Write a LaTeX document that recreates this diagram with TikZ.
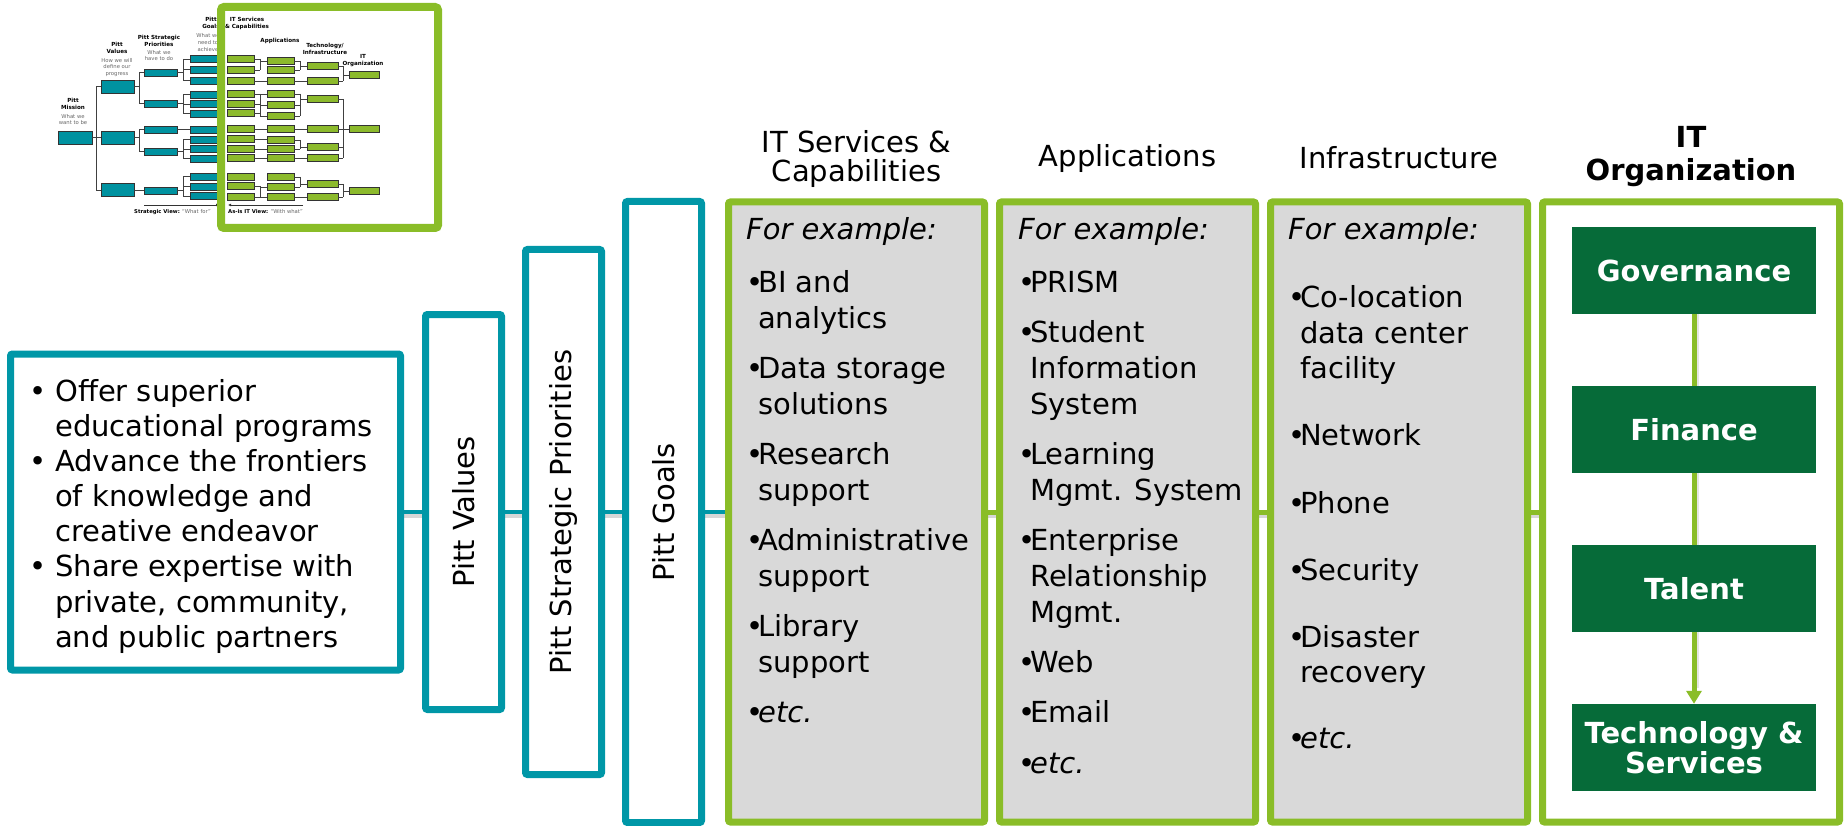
\documentclass[tikz,border=0pt]{standalone}
\usepackage{fontspec}
\setmainfont{DejaVu Sans}[ItalicFont={DejaVu Sans Oblique},BoldFont={DejaVu Sans Bold},BoldItalicFont={DejaVu Sans Bold Oblique}]
\usetikzlibrary{arrows.meta,backgrounds}
\definecolor{pteal}{RGB}{0,151,167}
\definecolor{pgreen}{RGB}{138,189,40}
\definecolor{pdark}{RGB}{6,107,57}
\definecolor{pgray}{RGB}{217,217,217}
\definecolor{tteal}{RGB}{0,146,160}
\definecolor{tgreen}{RGB}{140,186,44}
\newcommand{\mline}[4]{\node[txt] (#1) at (#2,#3) {#4};}
\newcommand{\bul}{\makebox[12pt][l]{\textbullet}}
\begin{document}
\begin{tikzpicture}[x=1pt,y=-1pt,
  tealbox/.style={draw=pteal, line width=7pt, fill=white, rounded corners=2pt, inner sep=0pt,
     font=\fontsize{29}{36}\selectfont},
  greenbox/.style={draw=pgreen, line width=7pt, fill=pgray, rounded corners=2pt, inner sep=0pt,
     minimum height=620pt},
  orgbox/.style={fill=pdark, text=white, font=\fontsize{29}{30}\selectfont\bfseries,
     minimum width=244pt, minimum height=87pt, align=center, inner sep=0pt},
  txt/.style={font=\fontsize{29}{36}\selectfont, inner sep=0pt, anchor=base west},
  hdr/.style={font=\fontsize{29}{30}\selectfont, inner sep=0pt, anchor=base},
  tconn/.style={pteal, line width=4.5pt},
  gconn/.style={pgreen, line width=5pt},
  shade/.style={black!35, opacity=0.45, line width=5pt},
  vshade/.style={black!25, opacity=0.4, line width=2.5pt},
  tline/.style={black!75, line width=0.7pt},
  tbox/.style={fill=tteal, draw=black!80, line width=0.7pt},
  gbox/.style={fill=tgreen, draw=black!80, line width=0.7pt},
  tbold/.style={font=\fontsize{5.6}{7}\selectfont\bfseries, align=center, inner sep=0pt},
  tgrey/.style={font=\fontsize{5.3}{6.6}\selectfont, text=black!60, align=center, inner sep=0pt}
]
\useasboundingbox (0,0) rectangle (1844,826);

% ---------------- thumbnail (strategic view) ----------------
\draw[tbox] (58,131) rectangle (92,144);
\foreach \y in {86.5,137.5,190} \draw[tbox] (101,\y-6.5) rectangle (134,\y+6.5);
\foreach \y in {72.5,103.5,129.5,151.5,190.5} \draw[tbox] (144,\y-3.5) rectangle (177,\y+3.5);
\foreach \y in {59,69.5,80.5,94.5,104,113.5,129.5,139.5,149,158.5,176.5,186.5,196}
  \draw[tbox] (190,\y-3.5) rectangle (224,\y+3.5);
\draw[tline] (92,137.5) -- (96,137.5) (96,86.5) -- (96,190);
\foreach \y in {86.5,137.5,190} \draw[tline] (96,\y) -- (101,\y);
\draw[tline] (134,86.5) -- (139,86.5) (139,72.5) -- (139,103.5) (139,72.5) -- (144,72.5) (139,103.5) -- (144,103.5);
\draw[tline] (134,137.5) -- (139,137.5) (139,129.5) -- (139,151.5) (139,129.5) -- (144,129.5) (139,151.5) -- (144,151.5);
\draw[tline] (134,190.5) -- (144,190.5);
\draw[tline] (177,72.5) -- (183,72.5) (183,59) -- (183,80.5);
\foreach \y in {59,69.5,80.5} \draw[tline] (183,\y) -- (190,\y);
\draw[tline] (177,103.5) -- (183,103.5) (183,94.5) -- (183,113.5);
\foreach \y in {94.5,104,113.5} \draw[tline] (183,\y) -- (190,\y);
\draw[tline] (177,129.5) -- (190,129.5);
\draw[tline] (177,151.5) -- (183,151.5) (183,139.5) -- (183,158.5);
\foreach \y in {139.5,149,158.5} \draw[tline] (183,\y) -- (190,\y);
\draw[tline] (177,190.5) -- (183,190.5) (183,176.5) -- (183,196);
\foreach \y in {176.5,186.5,196} \draw[tline] (183,\y) -- (190,\y);
\node[tbold] (tmis) at (73,103.5) {Pitt\\Mission};
\node[tgrey] (tmis2) at (73,119.5) {What we\\want to be};
\node[tbold] (tval) at (117,48) {Pitt\\Values};
\node[tgrey] (tval2) at (117,67.5) {How we will\\define our\\progress};
\node[tbold] (tpri) at (159,41) {Pitt Strategic\\Priorities};
\node[tgrey] (tpri2) at (159,55.5) {What we\\have to do};
\node[tbold] (tgoa) at (211,23) {Pitt\\Goals};
\node[tgrey] (tgoa2) at (208,42.5) {What we\\need to\\achieve};
\draw[black!80, line width=0.6pt, -{Latex[length=3pt,width=3pt]}] (144,205) -- (219,205);
\node[font=\fontsize{5.3}{6.6}\selectfont, anchor=west, inner sep=0pt] (tsv) at (134,212)
  {\textbf{Strategic View:} \textcolor{black!60}{“What for”}};
% frame
\draw[pgreen, line width=8pt, fill=white, rounded corners=3pt] (221,7) rectangle (438,228);
% thumbnail (IT view)
\foreach \y in {59,70,81,94,104,113,129,139,149,158,177,186,197} \draw[gbox] (227,\y-3.5) rectangle (254,\y+3.5);
\foreach \y in {61,70,81,94,105,116,129,140,149,158,177,187,197} \draw[gbox] (267,\y-3.5) rectangle (294,\y+3.5);
\foreach \y in {66,81,99,129,147,158,184,197} \draw[gbox] (307,\y-3.5) rectangle (338,\y+3.5);
\foreach \y in {75,129,191} \draw[gbox] (349,\y-3.5) rectangle (379,\y+3.5);
\draw[tline] (254,59) -- (260,59) (254,70) -- (260,70) (260,59) -- (260,70) (260,61) -- (267,61);
\draw[tline] (254,81) -- (267,81) (294,81) -- (307,81);
\draw[tline] (294,61) -- (300,61) (294,70) -- (300,70) (300,61) -- (300,70) (300,66) -- (307,66);
\draw[tline] (338,66) -- (343,66) (338,81) -- (343,81) (343,66) -- (343,81) (343,75) -- (349,75);
\foreach \y in {94,104,113} \draw[tline] (254,\y) -- (260,\y);
\foreach \y in {94,105,116} \draw[tline] (260,\y) -- (267,\y) (294,\y) -- (300,\y);
\draw[tline] (260,94) -- (260,116) (300,94) -- (300,116) (300,99) -- (307,99);
\draw[tline] (254,129) -- (267,129) (294,129) -- (307,129) (338,129) -- (349,129);
\draw[tline] (254,139.5) -- (267,139.5) (254,149) -- (267,149) (254,158) -- (267,158);
\draw[tline] (294,140) -- (300,140) (294,149) -- (300,149) (300,140) -- (300,149) (300,147) -- (307,147);
\draw[tline] (294,158) -- (307,158);
\foreach \y in {99,147,158} \draw[tline] (338,\y) -- (343,\y);
\draw[tline] (343,99) -- (343,158);
\draw[tline] (254,186) -- (260,186) (254,197) -- (260,197) (260,186) -- (260,197) (260,187) -- (267,187) (260,197) -- (267,197);
\draw[tline] (294,177) -- (300,177) (294,187) -- (300,187) (300,177) -- (300,187) (300,184) -- (307,184);
\draw[tline] (294,197) -- (307,197);
\draw[tline] (338,184) -- (343,184) (338,197) -- (343,197) (343,184) -- (343,197) (343,191) -- (349,191);
\node[tbold] (tits) at (247,23) {IT Services\\\& Capabilities};
\node[tbold] (tapp) at (280,41) {Applications};
\node[tbold] (ttec) at (325,48.5) {Technology/\\Infrastructure};
\node[tbold] (torg) at (363,61) {IT\\Organization};
\draw[black!80, line width=0.6pt, -{Latex[length=3pt,width=3pt]}] (303,205) -- (228,205);
\node[font=\fontsize{5.3}{6.6}\selectfont, anchor=west, inner sep=0pt] (tiv) at (228,212)
  {\textbf{As-is IT View:} \textcolor{black!60}{“With what”}};

% ---------------- main boxes ----------------
\node[tealbox, minimum width=390pt, minimum height=316pt] (mission) at (205.5,512) {};
\node[tealbox, rotate=90, minimum width=395pt, minimum height=76pt] (values) at (463.5,512) {Pitt Values};
\node[tealbox, rotate=90, minimum width=525pt, minimum height=76pt] (priorities) at (563.5,512) {Pitt Strategic Priorities};
\node[tealbox, rotate=90, minimum width=621pt, minimum height=76pt] (goals) at (663.5,512) {Pitt Goals};
\node[greenbox, minimum width=256pt] (its) at (856.5,512) {};
\node[greenbox, minimum width=256pt] (apps) at (1127.5,512) {};
\node[greenbox, minimum width=257pt] (infra) at (1399,512) {};
\node[greenbox, fill=white, minimum width=297pt] (org) at (1691,512) {};

% connectors
\begin{pgfonlayer}{background}
\foreach \a/\b in {mission/values,values/priorities,priorities/goals,goals/its,its/apps,apps/infra,infra/org}
  \draw[shade] ([yshift=-3.5pt]\a.center) -- ([yshift=-3.5pt]\b.center);
\foreach \a/\b in {mission/values,values/priorities,priorities/goals,goals/its}
  \draw[tconn] (\a.center) -- (\b.center);
\foreach \a/\b in {its/apps,apps/infra,infra/org}
  \draw[gconn] (\a.center) -- (\b.center);
\end{pgfonlayer}

% mission text
\node[txt] (mb1) at (29,401) {\textbullet};
\node[txt] (mb2) at (29,471) {\textbullet};
\node[txt] (mb3) at (29,576) {\textbullet};
\mline{m1}{55}{401}{Offer superior}
\mline{m2}{55}{436}{educational programs}
\mline{m3}{55}{471}{Advance the frontiers}
\mline{m4}{55}{506}{of knowledge and}
\mline{m5}{55}{541}{creative endeavor}
\mline{m6}{55}{576}{Share expertise with}
\mline{m7}{55}{612}{private, community,}
\mline{m8}{55}{647}{and public partners}

% headers
\node[hdr] (h1a) at (856.5,153) {IT Services \&};
\node[hdr] (h1b) at (856.5,182) {Capabilities};
\node[hdr] (h2) at (1127.5,167) {Applications};
\node[hdr] (h3) at (1399,169) {Infrastructure};
\node[hdr, font=\fontsize{29}{30}\selectfont\bfseries] (h4a) at (1691,148) {IT};
\node[hdr, font=\fontsize{29}{30}\selectfont\bfseries] (h4b) at (1691,181) {Organization};

% IT services list
\mline{s0}{746}{240}{\itshape For example:}
\mline{s1}{746}{292}{\bul BI and}
\mline{s1b}{758}{328}{analytics}
\mline{s2}{746}{378}{\bul Data storage}
\mline{s2b}{758}{414}{solutions}
\mline{s3}{746}{464}{\bul Research}
\mline{s3b}{758}{500}{support}
\mline{s4}{746}{550}{\bul Administrative}
\mline{s4b}{758}{586}{support}
\mline{s5}{746}{636}{\bul Library}
\mline{s5b}{758}{672}{support}
\mline{s6}{746}{722}{\bul\textit{etc.}}

% applications list
\mline{a0}{1018}{240}{\itshape For example:}
\mline{a1}{1018}{292}{\bul PRISM}
\mline{a2}{1018}{342}{\bul Student}
\mline{a2b}{1030}{378}{Information}
\mline{a2c}{1030}{414}{System}
\mline{a3}{1018}{464}{\bul Learning}
\mline{a3b}{1030}{500}{Mgmt. System}
\mline{a4}{1018}{550}{\bul Enterprise}
\mline{a4b}{1030}{586}{Relationship}
\mline{a4c}{1030}{622}{Mgmt.}
\mline{a5}{1018}{672}{\bul Web}
\mline{a6}{1018}{722}{\bul Email}
\mline{a7}{1018}{773}{\bul\textit{etc.}}

% infrastructure list
\mline{i0}{1288}{240}{\itshape For example:}
\mline{i1}{1288}{307}{\bul Co-location}
\mline{i1b}{1300}{343}{data center}
\mline{i1c}{1300}{378}{facility}
\mline{i2}{1288}{445}{\bul Network}
\mline{i3}{1288}{513}{\bul Phone}
\mline{i4}{1288}{580}{\bul Security}
\mline{i5}{1288}{647}{\bul Disaster}
\mline{i5b}{1300}{682}{recovery}
\mline{i6}{1288}{748}{\bul\textit{etc.}}

% IT organization
\node[orgbox] (gov) at (1694,270.5) {Governance};
\node[orgbox] (fin) at (1694,429.5) {Finance};
\node[orgbox] (tal) at (1694,588.5) {Talent};
\node[orgbox] (tech) at (1694,747.5) {Technology \&\\Services};
\foreach \a/\b in {gov/fin,fin/tal}
  \draw[vshade] ([xshift=3.5pt]\a.south) -- ([xshift=3.5pt]\b.north);
\draw[vshade] ([xshift=3.5pt]tal.south) -- ([xshift=3.5pt,yshift=16pt]tech.north);
\draw[gconn] (gov) -- (fin);
\draw[gconn] (fin) -- (tal);
\draw[gconn, -{Triangle[width=15pt,length=13pt]}] (tal) -- (tech);
\end{tikzpicture}
\end{document}
